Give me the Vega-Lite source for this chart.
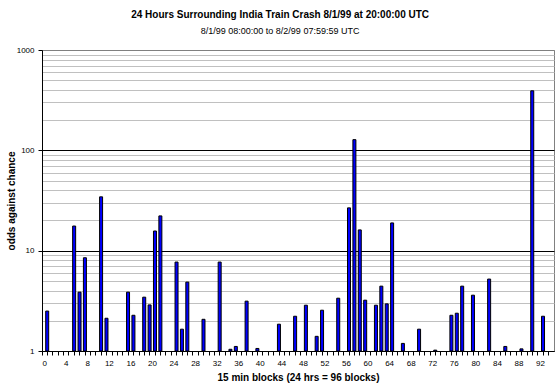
{
  "$schema": "https://vega.github.io/schema/vega-lite/v6.json",
  "width": 512,
  "height": 301,
  "autosize": {"type": "none"},
  "padding": {"left": 42, "top": 50, "right": 5, "bottom": 36},
  "background": "white",
  "title": {
    "text": "24 Hours Surrounding India Train Crash 8/1/99 at 20:00:00 UTC",
    "subtitle": "8/1/99 08:00:00 to 8/2/99 07:59:59 UTC",
    "anchor": "middle",
    "frame": "bounds",
    "font": "Liberation Sans",
    "fontSize": 10,
    "fontWeight": "bold",
    "color": "black",
    "subtitleFont": "Liberation Sans",
    "subtitleFontSize": 9,
    "subtitleColor": "black",
    "subtitlePadding": 7,
    "offset": 10
  },
  "config": {
    "view": {"stroke": "#808080", "strokeWidth": 1},
    "axis": {
      "labelFont": "Liberation Sans",
      "titleFont": "Liberation Sans",
      "labelColor": "black",
      "titleColor": "black"
    }
  },
  "data": {
    "values": [
      {"block": 0, "odds": 2.5},
      {"block": 5, "odds": 17.6},
      {"block": 6, "odds": 3.86},
      {"block": 7, "odds": 8.5},
      {"block": 10, "odds": 34.4},
      {"block": 11, "odds": 2.12},
      {"block": 15, "odds": 3.86},
      {"block": 16, "odds": 2.27},
      {"block": 18, "odds": 3.44},
      {"block": 19, "odds": 2.88},
      {"block": 20, "odds": 15.7},
      {"block": 21, "odds": 22.2},
      {"block": 24, "odds": 7.7},
      {"block": 25, "odds": 1.65},
      {"block": 26, "odds": 4.86},
      {"block": 29, "odds": 2.07},
      {"block": 32, "odds": 7.7},
      {"block": 34, "odds": 1.04},
      {"block": 35, "odds": 1.11},
      {"block": 37, "odds": 3.14},
      {"block": 39, "odds": 1.06},
      {"block": 43, "odds": 1.85},
      {"block": 46, "odds": 2.22},
      {"block": 48, "odds": 2.86},
      {"block": 50, "odds": 1.4},
      {"block": 51, "odds": 2.55},
      {"block": 54, "odds": 3.36},
      {"block": 56, "odds": 26.7},
      {"block": 57, "odds": 127.8},
      {"block": 58, "odds": 16.1},
      {"block": 59, "odds": 3.21},
      {"block": 61, "odds": 2.86},
      {"block": 62, "odds": 4.43},
      {"block": 63, "odds": 2.95},
      {"block": 64, "odds": 18.9},
      {"block": 66, "odds": 1.19},
      {"block": 69, "odds": 1.65},
      {"block": 72, "odds": 1.02},
      {"block": 75, "odds": 2.27},
      {"block": 76, "odds": 2.38},
      {"block": 77, "odds": 4.43},
      {"block": 79, "odds": 3.6},
      {"block": 82, "odds": 5.21},
      {"block": 85, "odds": 1.11},
      {"block": 88, "odds": 1.05},
      {"block": 90, "odds": 392},
      {"block": 92, "odds": 2.22}
    ]
  },
  "mark": {"type": "bar", "width": 3, "fill": "#0000ff", "stroke": "#000000", "strokeWidth": 1, "xOffset": 2.5},
  "encoding": {
    "x": {
      "field": "block",
      "type": "ordinal",
      "scale": {
        "domain": [0,1,2,3,4,5,6,7,8,9,10,11,12,13,14,15,16,17,18,19,20,21,22,23,24,25,26,27,28,29,30,31,32,33,34,35,36,37,38,39,40,41,42,43,44,45,46,47,48,49,50,51,52,53,54,55,56,57,58,59,60,61,62,63,64,65,66,67,68,69,70,71,72,73,74,75,76,77,78,79,80,81,82,83,84,85,86,87,88,89,90,91,92,93,94],
        "paddingInner": 0,
        "paddingOuter": 0
      },
      "axis": {
        "title": "15 min blocks (24 hrs = 96 blocks)",
        "titleFontSize": 10,
        "titleFontWeight": "bold",
        "titlePadding": 5,
        "bandPosition": 0,
        "labelExpr": "datum.value % 4 === 0 ? datum.label : ''",
        "labelAngle": 0,
        "labelFontSize": 8,
        "labelPadding": 4,
        "labelOverlap": false,
        "tickSize": 4,
        "tickColor": "black",
        "domainColor": "black",
        "grid": false
      }
    },
    "y": {
      "field": "odds",
      "type": "quantitative",
      "scale": {"type": "log", "domain": [1, 1000]},
      "axis": {
        "title": "odds against chance",
        "titleFontSize": 10,
        "titleFontWeight": "bold",
        "titlePadding": 0,
        "values": [1,2,3,4,5,6,7,8,9,10,20,30,40,50,60,70,80,90,100,200,300,400,500,600,700,800,900,1000],
        "labelExpr": "(datum.value === 1 || datum.value === 10 || datum.value === 100 || datum.value === 1000) ? format(datum.value, 'd') : ''",
        "labelFontSize": 8,
        "labelPadding": 4,
        "labelOverlap": false,
        "tickSize": 4,
        "tickColor": {"condition": {"test": "datum.value === 1 || datum.value === 10 || datum.value === 100 || datum.value === 1000", "value": "black"}, "value": "transparent"},
        "domainColor": "black",
        "grid": true,
        "gridColor": {"condition": [{"test": "datum.value === 10 || datum.value === 100 || datum.value === 1", "value": "black"}, {"test": "datum.value === 1000", "value": "#808080"}], "value": "#c0c0c0"}
      }
    },
    "y2": {"datum": 1}
  }
}
